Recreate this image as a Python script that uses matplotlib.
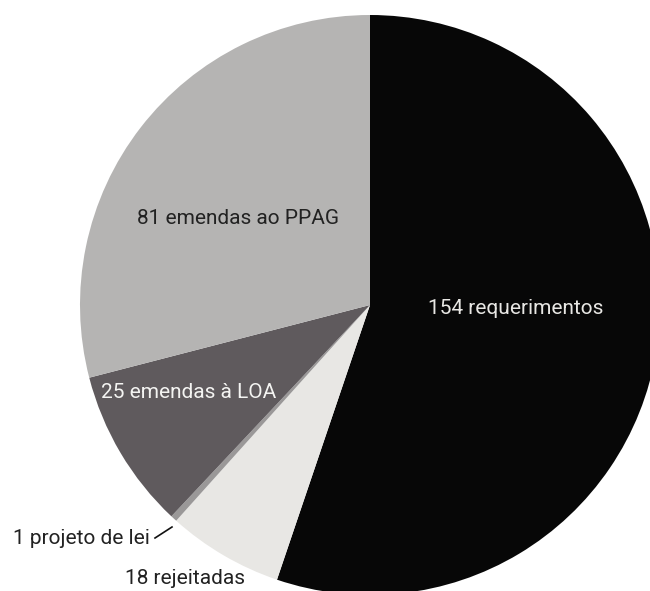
import matplotlib
matplotlib.use("Agg")
import matplotlib.pyplot as plt

labels = ["154 requerimentos", "18 rejeitadas", "1 projeto de lei", "25 emendas à LOA", "81 emendas ao PPAG"]
values = [154, 18, 1, 25, 81]
colors = ["#070707", "#e8e7e4", "#9a9898", "#5f5a5d", "#b5b4b3"]

W, H = 650, 591
fig = plt.figure(figsize=(W / 100, H / 100), dpi=100)
ax = fig.add_axes([0, 0, 1, 1])
cx, cy, r = 370, H - 305, 290
ax.pie(values, colors=colors, startangle=90, counterclock=False,
       center=(cx, cy), radius=r, wedgeprops=dict(linewidth=0))
ax.set_xlim(0, W)
ax.set_ylim(0, H)
ax.set_aspect("auto")
ax.axis("off")

font = dict(family=["Roboto", "DejaVu Sans"], fontsize=15)
ax.text(516, H - 308, labels[0], color="#e8e7e4", ha="center", va="center", **font)
ax.text(238, H - 219, labels[4], color="#222222", ha="center", va="center", **font)
ax.text(189, H - 393, labels[3], color="#f4f4f2", ha="center", va="center", **font)
ax.text(150, H - 538, labels[2], color="#222222", ha="right", va="center", **font)
ax.plot([155, 172], [H - 538, H - 527], color="#111111", lw=1.2)
ax.text(185, H - 578, labels[1], color="#222222", ha="center", va="center", **font)

fig.savefig("out.png", dpi=100, facecolor="white")
